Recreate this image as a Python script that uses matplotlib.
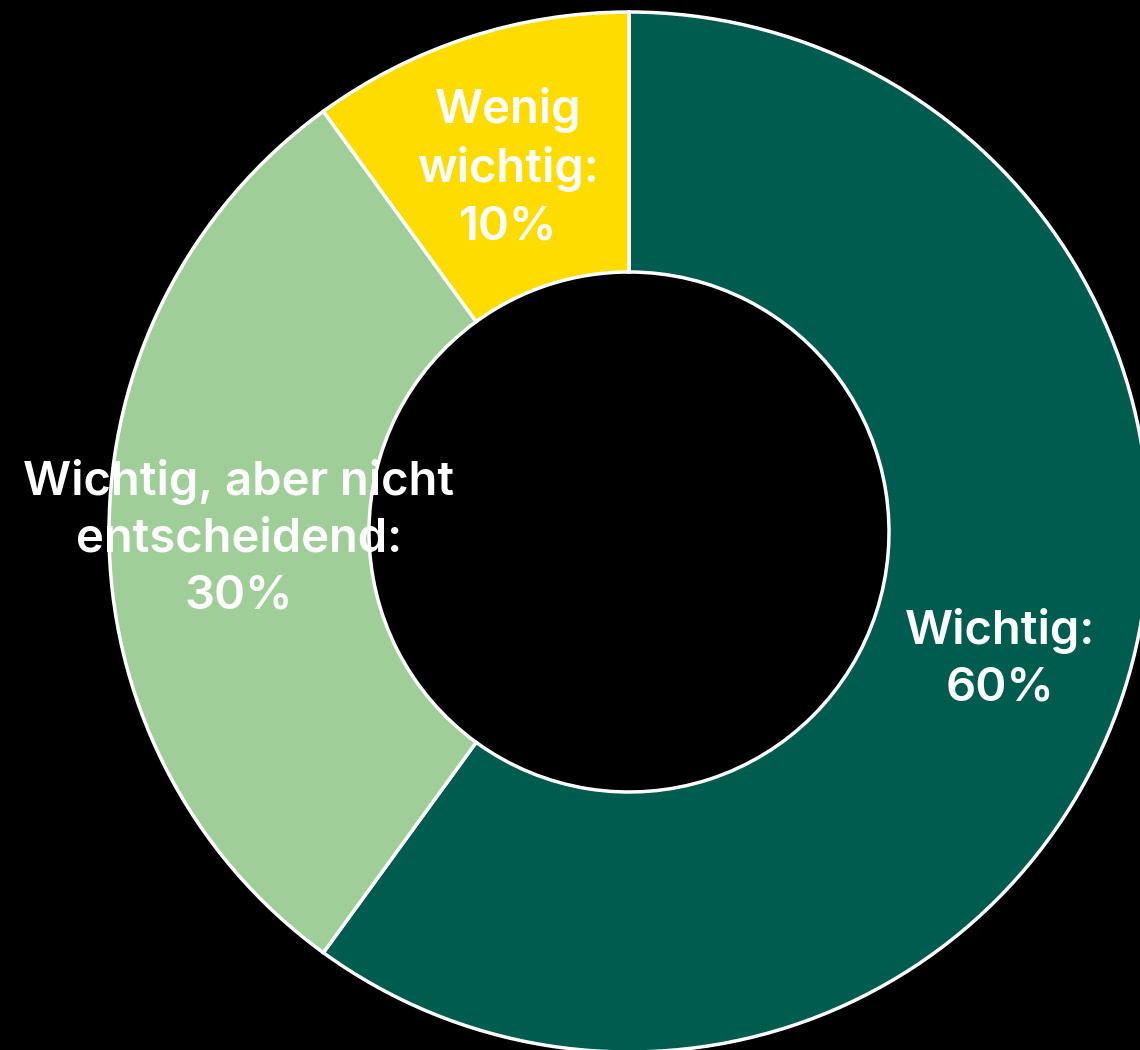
import numpy as np
import matplotlib
matplotlib.use("Agg")
import matplotlib.pyplot as plt

labels = ["Wichtig:\n60%", "Wichtig, aber nicht\nentscheidend:\n30%", "Wenig\nwichtig:\n10%"]
values = [60, 30, 10]
colors = ["#005C4E", "#A0CE98", "#FFDC00"]

fig = plt.figure(figsize=(11.4, 10.5), dpi=100, facecolor="black")
ax = fig.add_axes([0, 0, 1, 1])
ax.set_facecolor("black")

wedges, _ = ax.pie(values, colors=colors, startangle=90, counterclock=False,
                   radius=1.0, wedgeprops=dict(width=0.5, edgecolor="white", linewidth=2.5))

total = sum(values)
start = 90.0
for lab, v in zip(labels, values):
    mid = start - 360.0 * v / total / 2
    r = 0.75
    x, y = r * np.cos(np.radians(mid)), r * np.sin(np.radians(mid))
    ax.text(x, y - 0.013, lab, ha="center", va="center", color="white", fontsize=34,
            fontweight="semibold", family=["Inter", "DejaVu Sans"], linespacing=1.38)
    start -= 360.0 * v / total

ax.set_xlim(-629 / 520, (1140 - 629) / 520)
ax.set_ylim(-(1050 - 532) / 520, 532 / 520)
ax.set_aspect("auto")
ax.axis("off")

fig.savefig("out.png", dpi=100, facecolor="black")
